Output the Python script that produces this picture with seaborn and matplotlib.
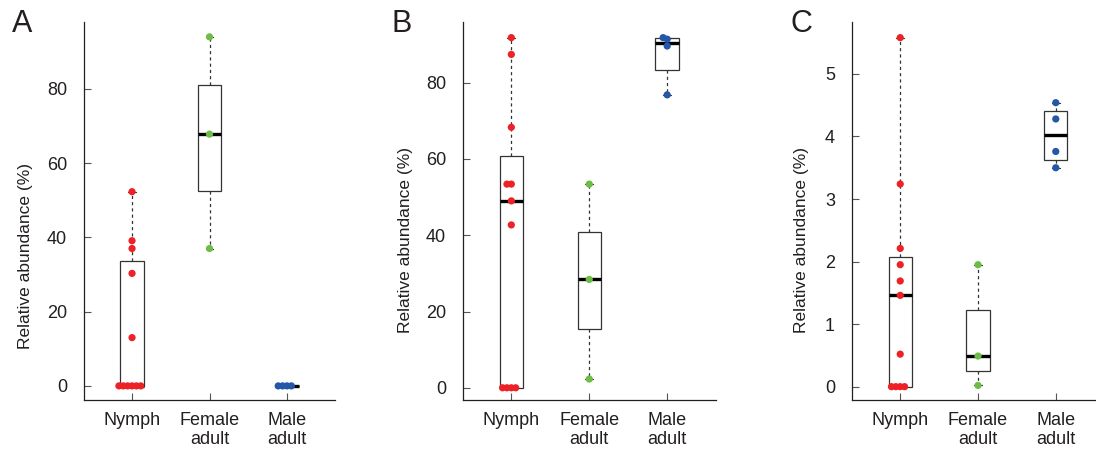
import numpy as np
import pandas as pd
import matplotlib
matplotlib.use("Agg")
import matplotlib as mpl
import matplotlib.pyplot as plt
import seaborn as sns

# ---------------- data ----------------
categories = ["Nymph", "Female adult", "Male adult"]
tick_labels = ["Nymph", "Female\nadult", "Male\nadult"]
group_colors = ["#EC2227", "#6CBD45", "#2457A8"]

nymph_A = [0, 0, 0, 0, 0, 0, 13.0, 30.3, 37.0, 39.1, 52.3]
female_A = [37.0, 67.8, 94.0]
male_A = [0, 0, 0, 0]

nymph_B = [0, 0, 0, 0, 42.7, 49.0, 53.4, 53.4, 68.3, 87.4, 91.8]
female_B = [2.3, 28.4, 53.4]
male_B = [76.8, 89.6, 91.4, 91.8]

nymph_C = [0, 0, 0, 0, 0.52, 1.46, 1.69, 1.95, 2.21, 3.24, 5.58]
female_C = [0.02, 0.49, 1.95]
male_C = [3.50, 3.76, 4.28, 4.54]

panel_letters = ["A", "B", "C"]
y_ticks_A = [0, 20, 40, 60, 80]
y_ticks_B = [0, 20, 40, 60, 80]
y_ticks_C = [0, 1, 2, 3, 4, 5]
y_label = "Relative abundance (%)"

# ---------------- R-style (Tukey hinge) box statistics ----------------
_orig_stats = mpl.cbook.boxplot_stats


def _hinge_stats(X, *args, **kwargs):
    out = _orig_stats(X, *args, **kwargs)
    for st, x in zip(out, X):
        x = np.sort(np.asarray(x, dtype=float))
        n = len(x)
        n4 = np.floor((n + 3) / 2) / 2
        d1 = n4 - 1
        d3 = n + 1 - n4 - 1
        st["q1"] = 0.5 * (x[int(np.floor(d1))] + x[int(np.ceil(d1))])
        st["q3"] = 0.5 * (x[int(np.floor(d3))] + x[int(np.ceil(d3))])
    return out


mpl.cbook.boxplot_stats = _hinge_stats

# ---------------- style ----------------
sns.set_style("ticks")
plt.rcParams["font.family"] = ["Liberation Sans", "DejaVu Sans"]
plt.rcParams["text.color"] = "#231F20"
plt.rcParams["axes.labelcolor"] = "#231F20"
plt.rcParams["xtick.color"] = "#555555"
plt.rcParams["ytick.color"] = "#555555"
plt.rcParams["xtick.labelcolor"] = "#231F20"
plt.rcParams["ytick.labelcolor"] = "#231F20"

W, H = 1096, 453
fig = plt.figure(figsize=(W / 100, H / 100), dpi=100)
fig.patch.set_facecolor("white")

panels = [
    dict(data=(nymph_A, female_A, male_A), ticks=y_ticks_A, ylim=(-3.8, 98.0),
         left=84, width=251, lab_x=-51, lab_y=256, letter_x=12),
    dict(data=(nymph_B, female_B, male_B), ticks=y_ticks_B, ylim=(-3.2, 95.9),
         left=463, width=252.5, lab_x=-50, lab_y=240, letter_x=392),
    dict(data=(nymph_C, female_C, male_C), ticks=y_ticks_C, ylim=(-0.213, 5.83),
         left=852, width=252, lab_x=-43, lab_y=240, letter_x=791),
]

top_px, bot_px = 22, 400
xlim = (-0.62, 2.62)

for letter, p in zip(panel_letters, panels):
    ax = fig.add_axes([p["left"] / W, (H - bot_px) / H, p["width"] / W,
                       (bot_px - top_px) / H])
    stages, values = [], []
    for cat, vals in zip(categories, p["data"]):
        stages += [cat] * len(vals)
        values += list(vals)
    df = pd.DataFrame({"stage": stages, "value": values})

    sns.boxplot(data=df, x="stage", y="value", order=categories, width=0.3,
                whis=(0, 100), color="white", saturation=1,
                linecolor="#333333", linewidth=0.9, fliersize=0,
                medianprops=dict(color="black", linewidth=2.4),
                whiskerprops=dict(linestyle=(0, (2.5, 2.5))),
                capwidths=0.1, ax=ax)
    ax.set_xlim(*xlim)
    ax.set_ylim(*p["ylim"])

    sns.swarmplot(data=df, x="stage", y="value", hue="stage", order=categories,
                  hue_order=categories, palette=group_colors, size=3.0,
                  linewidth=0, zorder=3, legend=False, ax=ax)
    ax.set_xlim(*xlim)
    ax.set_ylim(*p["ylim"])
    # keep the swarm layout computed by seaborn, then draw dots at full size
    for coll in ax.collections:
        if "draw" in coll.__dict__:
            del coll.draw
        coll.set_sizes([5.2 ** 2])

    ax.set_yticks(p["ticks"])
    ax.set_yticklabels([str(t) for t in p["ticks"]])
    ax.set_xticks(range(len(categories)))
    ax.set_xticklabels(tick_labels)
    ax.set_xlabel("")
    ax.set_ylabel(y_label, fontsize=12.5)
    ax.yaxis.set_label_coords(p["lab_x"] / p["width"],
                              (bot_px - p["lab_y"]) / (bot_px - top_px))

    for side in ["top", "right"]:
        ax.spines[side].set_visible(False)
    for side in ["left", "bottom"]:
        ax.spines[side].set_color("#231F20")
        ax.spines[side].set_linewidth(0.9)
    ax.tick_params(axis="y", left=True, direction="in", length=5, width=0.8,
                   labelsize=13, pad=12.3)
    ax.tick_params(axis="x", bottom=True, direction="in", length=5, width=0.8,
                   labelsize=13, pad=8.5)
    ax.set_facecolor("white")

    fig.text(p["letter_x"] / W, 1 - 32 / H, letter, fontsize=22,
             ha="left", va="baseline", color="#231F20")

fig.savefig("out.png", dpi=100, facecolor="white")
